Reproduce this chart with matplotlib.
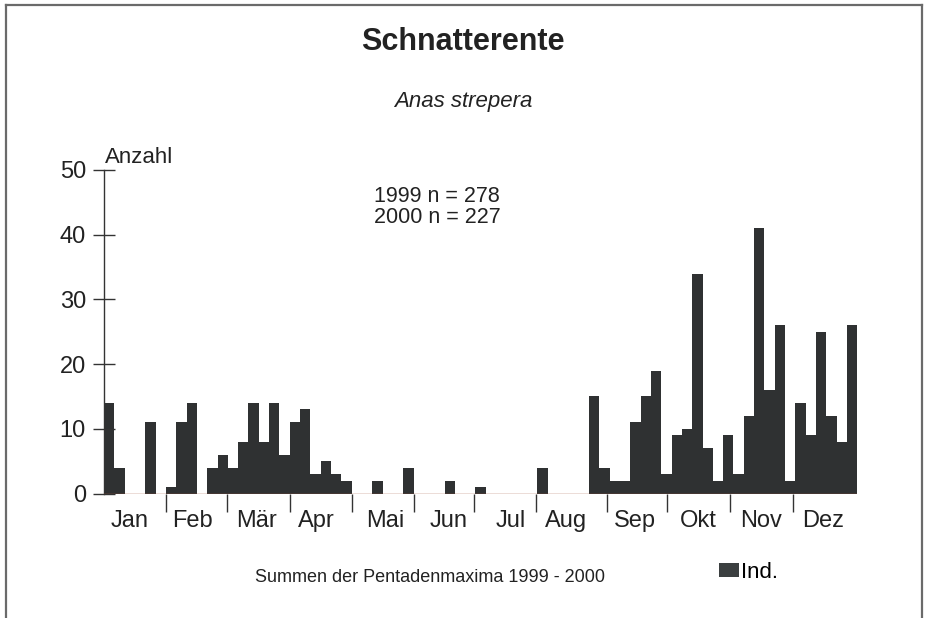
import matplotlib
matplotlib.use('Agg')
import matplotlib.pyplot as plt
from matplotlib.lines import Line2D
from matplotlib.patches import Patch

plt.rcParams['font.family'] = ['Liberation Sans', 'DejaVu Sans']

# Pentadensummen (73 Pentaden), Summen der Pentadenmaxima 1999 - 2000
counts = [14, 4, 0, 0, 11, 0,          # Jan
          1, 11, 14, 0, 4, 6,          # Feb
          4, 8, 14, 8, 14, 6,          # Mar
          11, 13, 3, 5, 3, 2,          # Apr
          0, 0, 2, 0, 0, 4,            # Mai
          0, 0, 0, 2, 0, 0,            # Jun
          1, 0, 0, 0, 0, 0,            # Jul
          4, 0, 0, 0, 0, 15,           # Aug
          4, 2, 2, 11, 15, 19,         # Sep
          3, 9, 10, 34, 7, 2,          # Okt
          9, 3, 12, 41, 16, 26,        # Nov
          2, 14, 9, 25, 12, 8, 26]     # Dez
months = ['Jan', 'Feb', 'Mär', 'Apr', 'Mai', 'Jun',
          'Jul', 'Aug', 'Sep', 'Okt', 'Nov', 'Dez']
month_edges = [6.0, 11.9, 18.0, 24.0, 30.0, 35.9, 41.9, 48.7, 54.6, 60.7, 66.8]
month_centers = [2.5, 8.6, 14.8, 20.6, 27.3, 33.4, 39.4, 44.8, 51.4, 57.6, 63.7, 69.7]

fig = plt.figure(figsize=(9.27, 6.18), dpi=100)
ax = fig.add_axes([104 / 927, 1 - 493.5 / 618, 753.3 / 927, 323.5 / 618])

bar_color = '#2f3132'
ax.bar(range(len(counts)), counts, width=1.0, align='edge',
       color=bar_color, linewidth=0, label='Ind.')
ax.axhline(0, color='#a0523a', lw=1.0, zorder=3)

ax.set_xlim(0, 73)
ax.set_ylim(0, 50)
for s in ['top', 'right', 'bottom']:
    ax.spines[s].set_visible(False)
ax.spines['left'].set_color('#333333')
ax.spines['left'].set_linewidth(1.0)

ax.set_yticks(range(0, 51, 10))
ax.tick_params(axis='y', direction='inout', length=16, width=1.0,
               color='#333333', labelsize=17, pad=5, labelcolor='#222222')

ax.set_xticks(month_centers)
ax.set_xticklabels(months, fontsize=17, color='#222222')
ax.set_xticks(month_edges, minor=True)
ax.tick_params(axis='x', which='major', length=0, pad=12)
ax.tick_params(axis='x', which='minor', direction='out', length=13,
               width=1.0, color='#333333')

ax.text(0.1, 50.3, 'Anzahl', fontsize=16, color='#222222', va='bottom')

fig.text(463 / 927, 1 - 42 / 618, 'Schnatterente', fontsize=22,
         fontweight='bold', ha='center', va='center', color='#222222')
fig.text(463 / 927, 1 - 101 / 618, 'Anas strepera', fontsize=16,
         style='italic', ha='center', va='center', color='#222222')
fig.text(374 / 927, 1 - 197 / 618, '1999 n = 278', fontsize=15.5,
         ha='left', va='center', color='#222222')
fig.text(374 / 927, 1 - 218 / 618, '2000 n = 227', fontsize=15.5,
         ha='left', va='center', color='#222222')
fig.text(430 / 927, 1 - 578 / 618, 'Summen der Pentadenmaxima 1999 - 2000',
         fontsize=13, ha='center', va='center', color='#222222')

fig.legend(handles=[Patch(facecolor='#3b3f40', edgecolor='none')], labels=['Ind.'],
           loc='center left', bbox_to_anchor=(719 / 927, 1 - 572 / 618),
           frameon=False, fontsize=16, handlelength=0.9, handleheight=0.6,
           handletextpad=0.1, borderaxespad=0, borderpad=0)

# Rahmen (links, oben, rechts)
fc = '#6a6a6a'
fig.add_artist(Line2D([6 / 927, 6 / 927], [0, 1 - 5 / 618], color=fc, lw=1.6))
fig.add_artist(Line2D([6 / 927, 922 / 927], [1 - 5 / 618, 1 - 5 / 618], color=fc, lw=1.6))
fig.add_artist(Line2D([922 / 927, 922 / 927], [0, 1 - 5 / 618], color=fc, lw=1.6))

fig.savefig('out.png', dpi=100)
